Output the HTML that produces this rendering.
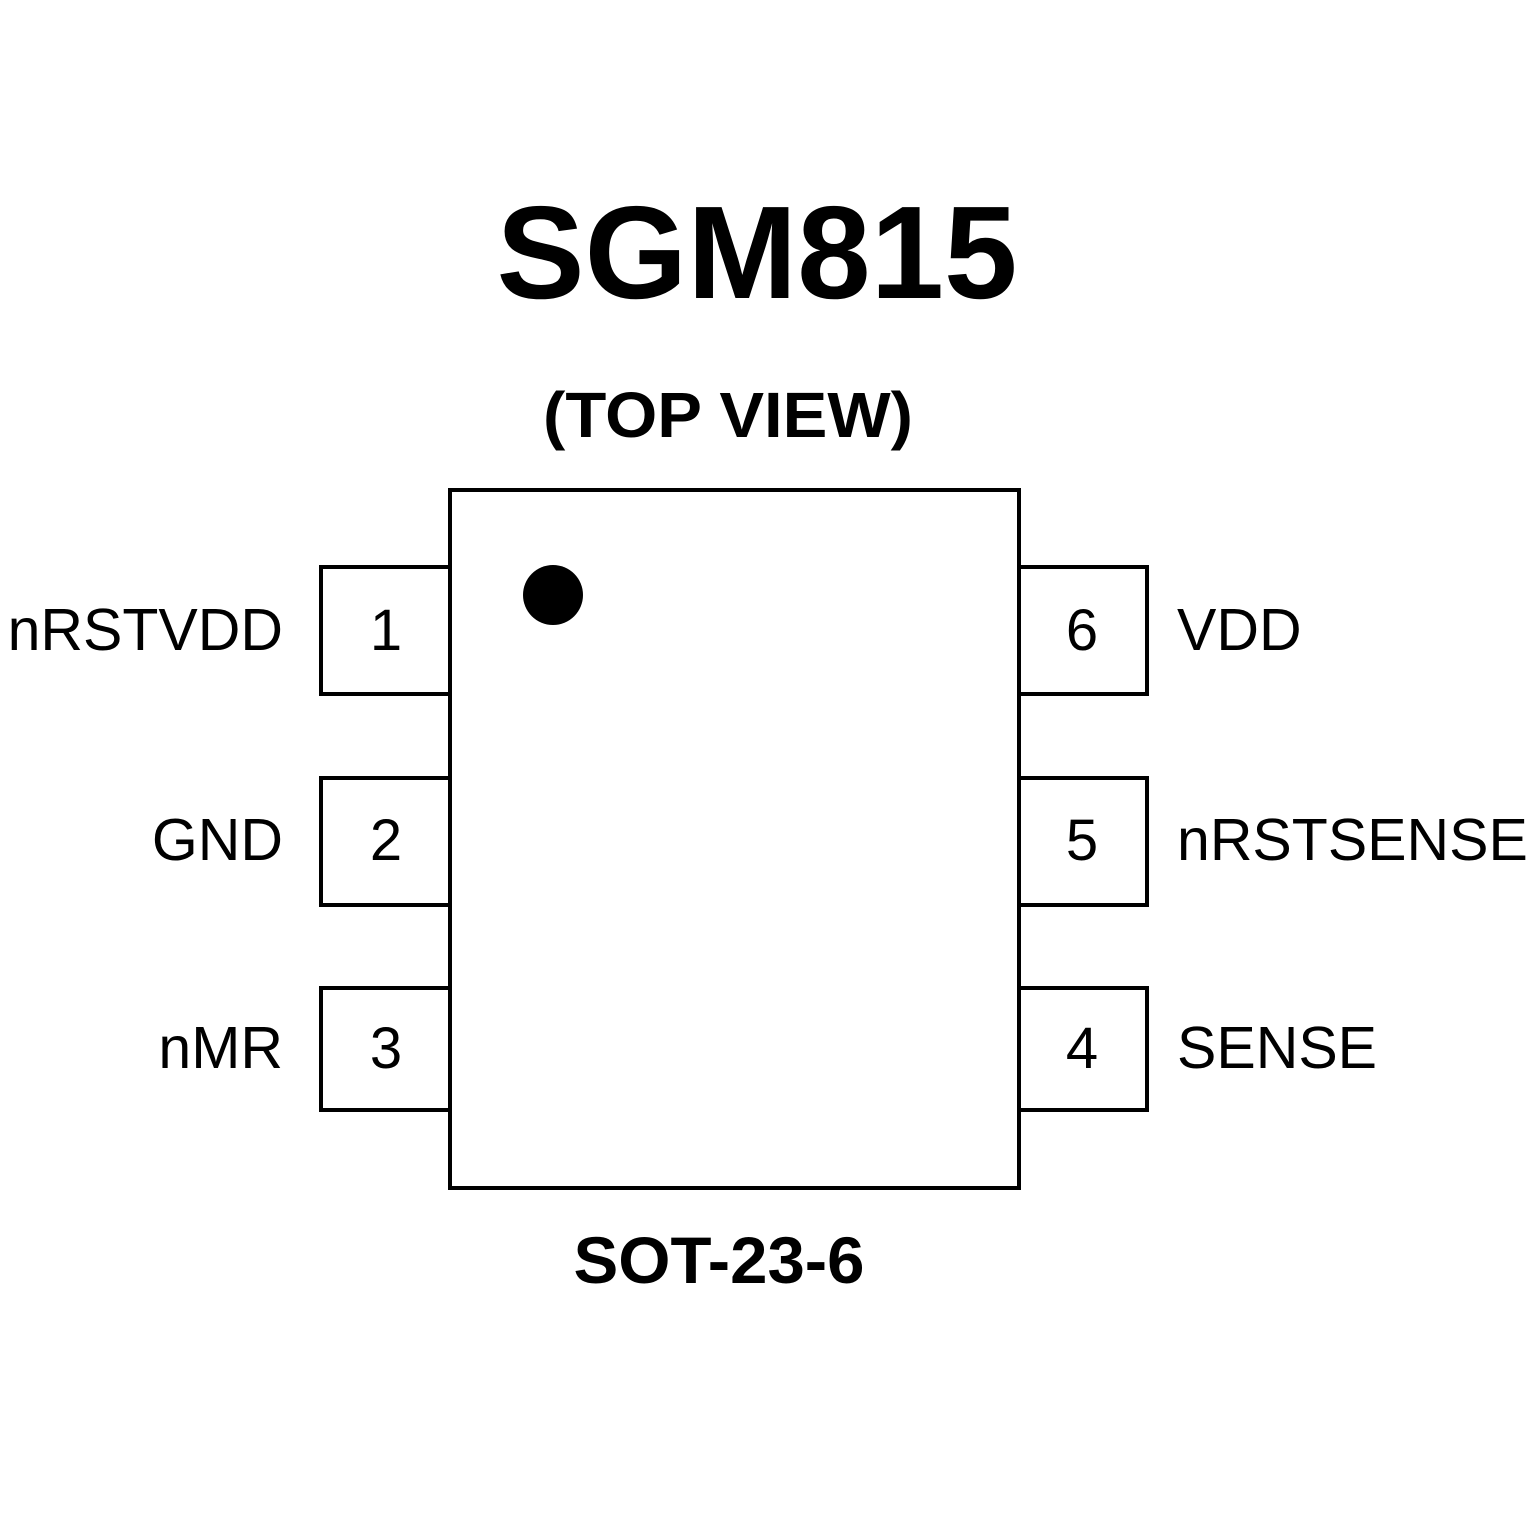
<!DOCTYPE html>
<html><head><meta charset="utf-8"><style>html,body{margin:0;padding:0;background:#fff}</style></head>
<body>
<svg width="1535" height="1535" viewBox="0 0 1535 1535" xmlns="http://www.w3.org/2000/svg" font-family="Liberation Sans, Arial, sans-serif">
<rect width="1535" height="1535" fill="#fff"/>
<text x="757" y="298" font-size="132" font-weight="bold" text-anchor="middle">SGM815</text>
<text x="728" y="437" font-size="64" font-weight="bold" text-anchor="middle" textLength="370" lengthAdjust="spacingAndGlyphs">(TOP VIEW)</text>
<g fill="none" stroke="#000" stroke-width="4">
<rect x="450" y="490" width="569" height="698"/>
<rect x="321" y="567" width="129" height="127"/>
<rect x="321" y="778" width="129" height="127"/>
<rect x="321" y="988" width="129" height="122"/>
<rect x="1019" y="567" width="128" height="127"/>
<rect x="1019" y="778" width="128" height="127"/>
<rect x="1019" y="988" width="128" height="122"/>
</g>
<circle cx="553" cy="595" r="30" fill="#000"/>
<g font-size="58" text-anchor="middle">
<text x="386" y="650">1</text>
<text x="386" y="860">2</text>
<text x="386" y="1068">3</text>
<text x="1082" y="650">6</text>
<text x="1082" y="860">5</text>
<text x="1082" y="1068">4</text>
</g>
<g font-size="59" text-anchor="end">
<text x="283" y="650">nRSTVDD</text>
<text x="283" y="860">GND</text>
<text x="283" y="1068">nMR</text>
</g>
<g font-size="59">
<text x="1177" y="650">VDD</text>
<text x="1177" y="860">nRSTSENSE</text>
<text x="1177" y="1068">SENSE</text>
</g>
<text x="719" y="1283" font-size="66" font-weight="bold" text-anchor="middle" textLength="291" lengthAdjust="spacingAndGlyphs">SOT-23-6</text>
</svg>
</body></html>
